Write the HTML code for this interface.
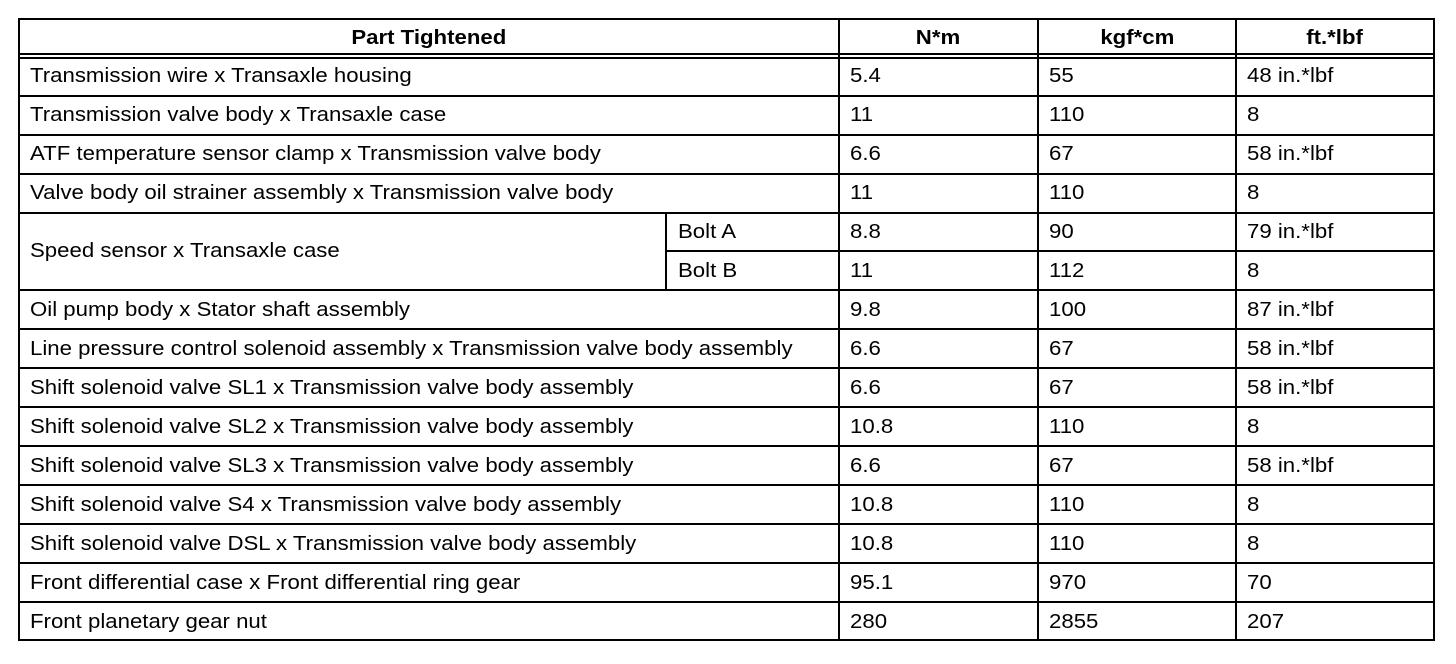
<!DOCTYPE html>
<html><head><style>
body{margin:0;width:1456px;height:664px;background:#fff;position:relative;font-family:"Liberation Sans",Arial,sans-serif;font-size:20px;color:#000;overflow:hidden}
.h{position:absolute;height:2px;background:#000}
.v{position:absolute;width:2px;background:#000}
.t{position:absolute;line-height:20px;white-space:nowrap;transform:scaleX(1.11);transform-origin:0 0}
.c{position:absolute;line-height:20px;white-space:nowrap;text-align:center}
.c span{display:inline-block;transform:scaleX(1.11)}
.b{font-weight:bold}
</style></head><body>
<div class="h" style="left:18px;width:1417px;top:18px"></div>
<div class="h" style="left:18px;width:1417px;top:53px"></div>
<div class="h" style="left:18px;width:1417px;top:57px"></div>
<div class="h" style="left:18px;width:1417px;top:95px"></div>
<div class="h" style="left:18px;width:1417px;top:134px"></div>
<div class="h" style="left:18px;width:1417px;top:173px"></div>
<div class="h" style="left:18px;width:1417px;top:212px"></div>
<div class="h" style="left:666px;width:769px;top:250px"></div>
<div class="h" style="left:18px;width:1417px;top:289px"></div>
<div class="h" style="left:18px;width:1417px;top:328px"></div>
<div class="h" style="left:18px;width:1417px;top:367px"></div>
<div class="h" style="left:18px;width:1417px;top:406px"></div>
<div class="h" style="left:18px;width:1417px;top:445px"></div>
<div class="h" style="left:18px;width:1417px;top:484px"></div>
<div class="h" style="left:18px;width:1417px;top:523px"></div>
<div class="h" style="left:18px;width:1417px;top:562px"></div>
<div class="h" style="left:18px;width:1417px;top:601px"></div>
<div class="h" style="left:18px;width:1417px;top:639px"></div>
<div class="v" style="left:18px;top:18px;height:623px"></div>
<div class="v" style="left:838px;top:18px;height:623px"></div>
<div class="v" style="left:1037px;top:18px;height:623px"></div>
<div class="v" style="left:1235px;top:18px;height:623px"></div>
<div class="v" style="left:1433px;top:18px;height:623px"></div>
<div class="v" style="left:665px;top:212px;height:78px"></div>

<div class="c b" style="left:20px;width:818px;top:28px"><span>Part Tightened</span></div>
<div class="c b" style="left:840px;width:197px;top:28px"><span>N*m</span></div>
<div class="c b" style="left:1039px;width:196px;top:28px"><span>kgf*cm</span></div>
<div class="c b" style="left:1237px;width:196px;top:28px"><span>ft.*lbf</span></div>

<div class="t" style="left:30px;top:66px">Transmission wire x Transaxle housing</div>
<div class="t" style="left:30px;top:105px">Transmission valve body x Transaxle case</div>
<div class="t" style="left:30px;top:144px">ATF temperature sensor clamp x Transmission valve body</div>
<div class="t" style="left:30px;top:183px">Valve body oil strainer assembly x Transmission valve body</div>
<div class="t" style="left:30px;top:241px">Speed sensor x Transaxle case</div>
<div class="t" style="left:678px;top:222px">Bolt A</div>
<div class="t" style="left:678px;top:261px">Bolt B</div>
<div class="t" style="left:30px;top:300px">Oil pump body x Stator shaft assembly</div>
<div class="t" style="left:30px;top:339px">Line pressure control solenoid assembly x Transmission valve body assembly</div>
<div class="t" style="left:30px;top:378px">Shift solenoid valve SL1 x Transmission valve body assembly</div>
<div class="t" style="left:30px;top:417px">Shift solenoid valve SL2 x Transmission valve body assembly</div>
<div class="t" style="left:30px;top:456px">Shift solenoid valve SL3 x Transmission valve body assembly</div>
<div class="t" style="left:30px;top:495px">Shift solenoid valve S4 x Transmission valve body assembly</div>
<div class="t" style="left:30px;top:534px">Shift solenoid valve DSL x Transmission valve body assembly</div>
<div class="t" style="left:30px;top:573px">Front differential case x Front differential ring gear</div>
<div class="t" style="left:30px;top:612px">Front planetary gear nut</div>

<div class="t" style="left:850px;top:66px">5.4</div><div class="t" style="left:1049px;top:66px">55</div><div class="t" style="left:1247px;top:66px">48 in.*lbf</div>
<div class="t" style="left:850px;top:105px">11</div><div class="t" style="left:1049px;top:105px">110</div><div class="t" style="left:1247px;top:105px">8</div>
<div class="t" style="left:850px;top:144px">6.6</div><div class="t" style="left:1049px;top:144px">67</div><div class="t" style="left:1247px;top:144px">58 in.*lbf</div>
<div class="t" style="left:850px;top:183px">11</div><div class="t" style="left:1049px;top:183px">110</div><div class="t" style="left:1247px;top:183px">8</div>
<div class="t" style="left:850px;top:222px">8.8</div><div class="t" style="left:1049px;top:222px">90</div><div class="t" style="left:1247px;top:222px">79 in.*lbf</div>
<div class="t" style="left:850px;top:261px">11</div><div class="t" style="left:1049px;top:261px">112</div><div class="t" style="left:1247px;top:261px">8</div>
<div class="t" style="left:850px;top:300px">9.8</div><div class="t" style="left:1049px;top:300px">100</div><div class="t" style="left:1247px;top:300px">87 in.*lbf</div>
<div class="t" style="left:850px;top:339px">6.6</div><div class="t" style="left:1049px;top:339px">67</div><div class="t" style="left:1247px;top:339px">58 in.*lbf</div>
<div class="t" style="left:850px;top:378px">6.6</div><div class="t" style="left:1049px;top:378px">67</div><div class="t" style="left:1247px;top:378px">58 in.*lbf</div>
<div class="t" style="left:850px;top:417px">10.8</div><div class="t" style="left:1049px;top:417px">110</div><div class="t" style="left:1247px;top:417px">8</div>
<div class="t" style="left:850px;top:456px">6.6</div><div class="t" style="left:1049px;top:456px">67</div><div class="t" style="left:1247px;top:456px">58 in.*lbf</div>
<div class="t" style="left:850px;top:495px">10.8</div><div class="t" style="left:1049px;top:495px">110</div><div class="t" style="left:1247px;top:495px">8</div>
<div class="t" style="left:850px;top:534px">10.8</div><div class="t" style="left:1049px;top:534px">110</div><div class="t" style="left:1247px;top:534px">8</div>
<div class="t" style="left:850px;top:573px">95.1</div><div class="t" style="left:1049px;top:573px">970</div><div class="t" style="left:1247px;top:573px">70</div>
<div class="t" style="left:850px;top:612px">280</div><div class="t" style="left:1049px;top:612px">2855</div><div class="t" style="left:1247px;top:612px">207</div>
</body></html>
